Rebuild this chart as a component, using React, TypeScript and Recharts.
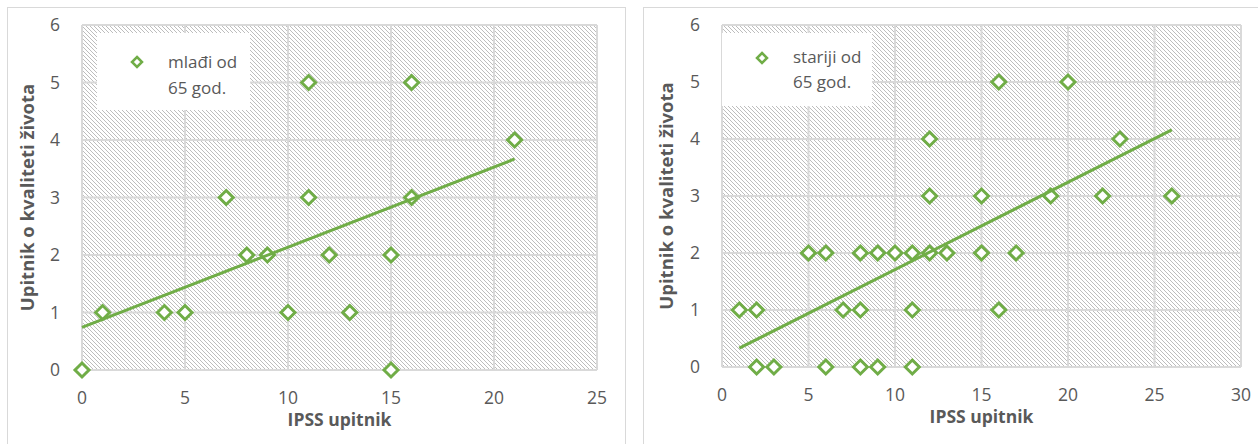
import { ScatterChart, Scatter, XAxis, YAxis, CartesianGrid, Legend } from 'recharts';

const GREEN = '#70AD47';
const TEXT = '#595959';
const GRID = '#D9D9D9';
const FONT = '"Open Sans", sans-serif';

// mlađi od 65 god.
const youngX = [0, 1, 4, 5, 7, 8, 9, 10, 11, 11, 12, 13, 15, 15, 16, 16, 21];
const youngY = [0, 1, 1, 1, 3, 2, 2, 1, 5, 3, 2, 1, 2, 0, 5, 3, 4];
const youngTrendX = [0, 21];
const youngTrendY = [0.74, 3.67];

// stariji od 65 god.
const olderX = [2, 3, 6, 8, 9, 11, 1, 2, 7, 8, 11, 16, 5, 6, 8, 9, 10, 11, 12, 13, 15, 17, 12, 15, 19, 22, 26, 12, 23, 16, 20];
const olderY = [0, 0, 0, 0, 0, 0, 1, 1, 1, 1, 1, 1, 2, 2, 2, 2, 2, 2, 2, 2, 2, 2, 3, 3, 3, 3, 3, 4, 4, 5, 5];
const olderTrendX = [1, 26];
const olderTrendY = [0.33, 4.16];

const yTicks = [0, 1, 2, 3, 4, 5, 6];
const youngXTicks = [0, 5, 10, 15, 20, 25];
const olderXTicks = [0, 5, 10, 15, 20, 25, 30];

const xTitle = 'IPSS upitnik';
const yTitle = 'Upitnik o kvaliteti života';

const toPoints = (xs: number[], ys: number[]) => xs.map((x, i) => ({ x, y: ys[i] }));

function Diamond(props: any) {
  const { cx, cy } = props;
  const r = 7;
  return (
    <polygon
      points={`${cx},${cy - r} ${cx + r},${cy} ${cx},${cy + r} ${cx - r},${cy}`}
      fill="#fff"
      stroke={GREEN}
      strokeWidth={3}
    />
  );
}

const NoShape = () => <g />;

interface PanelProps {
  id: string;
  points: { x: number; y: number }[];
  trend: { x: number; y: number }[];
  xTicks: number[];
  width: number;
  margin: { top: number; right: number; bottom: number; left: number };
  legendLines: string[];
  legendBox: { left: number; top: number; width: number; height: number };
  legendMarker: { x: number; y: number };
  legendTextX: number;
  legendLineTop: number;
  legendLineHeight: number;
  yTitleX: number;
}

function Panel(p: PanelProps) {
  const renderLegend = () => (
    <div style={{ position: 'relative', width: p.legendBox.width, height: p.legendBox.height, background: '#fff' }}>
      <svg
        width={14}
        height={14}
        style={{ position: 'absolute', left: p.legendMarker.x - 7, top: p.legendMarker.y - 7 }}
      >
        <polygon points="7,2 12,7 7,12 2,7" fill="#fff" stroke={GREEN} strokeWidth={2.5} />
      </svg>
      <div
        style={{
          position: 'absolute',
          left: p.legendTextX,
          top: p.legendLineTop,
          color: TEXT,
          fontFamily: FONT,
          fontSize: 17,
          lineHeight: `${p.legendLineHeight}px`,
          whiteSpace: 'nowrap',
        }}
      >
        {p.legendLines.map((l) => (
          <div key={l}>{l}</div>
        ))}
      </div>
    </div>
  );

  const renderYTitle = (props: any) => {
    const vb = props.viewBox;
    const cy = vb.y + vb.height / 2;
    return (
      <text
        x={p.yTitleX}
        y={cy}
        transform={`rotate(-90 ${p.yTitleX} ${cy})`}
        textAnchor="middle"
        dominantBaseline="central"
        fill={TEXT}
        fontFamily={FONT}
        fontWeight="bold"
        fontSize={18.5}
      >
        {yTitle}
      </text>
    );
  };

  const xMax = p.xTicks[p.xTicks.length - 1];

  return (
    <ScatterChart width={p.width} height={444} margin={p.margin}>
      <defs>
        <pattern id={p.id} width={4} height={4} patternUnits="userSpaceOnUse">
          <rect width={4} height={4} fill="#fff" />
          <path d="M-1,-1 L5,5 M-1,3 L1,5 M3,-1 L5,1" stroke="#BDBDBD" strokeWidth={1} />
        </pattern>
      </defs>
      <CartesianGrid stroke={GRID} strokeWidth={2} fill={`url(#${p.id})`} fillOpacity={1} />
      <XAxis
        type="number"
        dataKey="x"
        domain={[0, xMax]}
        ticks={p.xTicks}
        interval={0}
        axisLine={false}
        tickLine={false}
        tickSize={0}
        tickMargin={22}
        height={50}
        tick={{ fill: TEXT, fontSize: 17.5, fontFamily: FONT }}
        label={{
          value: xTitle,
          position: 'bottom',
          offset: -6,
          style: { fill: TEXT, fontSize: 17.5, fontWeight: 'bold', fontFamily: FONT },
        }}
      />
      <YAxis
        type="number"
        dataKey="y"
        domain={[0, 6]}
        ticks={yTicks}
        interval={0}
        axisLine={false}
        tickLine={false}
        tickSize={0}
        tickMargin={22}
        width={60}
        tick={{ fill: TEXT, fontSize: 17.5, fontFamily: FONT }}
        label={{ content: renderYTitle }}
      />
      <Legend
        layout="vertical"
        align="center"
        verticalAlign="middle"
        content={renderLegend}
        wrapperStyle={{ ...p.legendBox, position: 'absolute' }}
      />
      <Scatter data={p.points} shape={Diamond} isAnimationActive={false} />
      <Scatter
        data={p.trend}
        shape={NoShape}
        line={{ stroke: GREEN, strokeWidth: 3 }}
        legendType="none"
        isAnimationActive={false}
      />
    </ScatterChart>
  );
}

export default function App() {
  return (
    <div style={{ position: 'absolute', left: 0, top: 0, width: 1258, height: 444, overflow: 'hidden', background: '#fff' }}>
      <div style={{ position: 'absolute', left: 7, top: 7, width: 617, height: 460, border: `1px solid ${GRID}` }} />
      <div style={{ position: 'absolute', left: 643, top: 7, width: 640, height: 460, border: `1px solid ${GRID}` }} />
      <div style={{ position: 'absolute', left: 0, top: 0 }}>
        <Panel
          id="hatchYoung"
          points={toPoints(youngX, youngY)}
          trend={toPoints(youngTrendX, youngTrendY)}
          xTicks={youngXTicks}
          width={630}
          margin={{ top: 25, right: 33, bottom: 24, left: 22 }}
          legendLines={['mlađi od', '65 god.']}
          legendBox={{ left: 97, top: 33, width: 153, height: 77 }}
          legendMarker={{ x: 40, y: 29 }}
          legendTextX={71}
          legendLineTop={16}
          legendLineHeight={26}
          yTitleX={26}
        />
      </div>
      <div style={{ position: 'absolute', left: 630, top: 0 }}>
        <Panel
          id="hatchOlder"
          points={toPoints(olderX, olderY)}
          trend={toPoints(olderTrendX, olderTrendY)}
          xTicks={olderXTicks}
          width={628}
          margin={{ top: 25, right: 17, bottom: 27, left: 32 }}
          legendLines={['stariji od', '65 god.']}
          legendBox={{ left: 92, top: 33, width: 150, height: 73 }}
          legendMarker={{ x: 40, y: 25 }}
          legendTextX={71}
          legendLineTop={11}
          legendLineHeight={25}
          yTitleX={35}
        />
      </div>
    </div>
  );
}
